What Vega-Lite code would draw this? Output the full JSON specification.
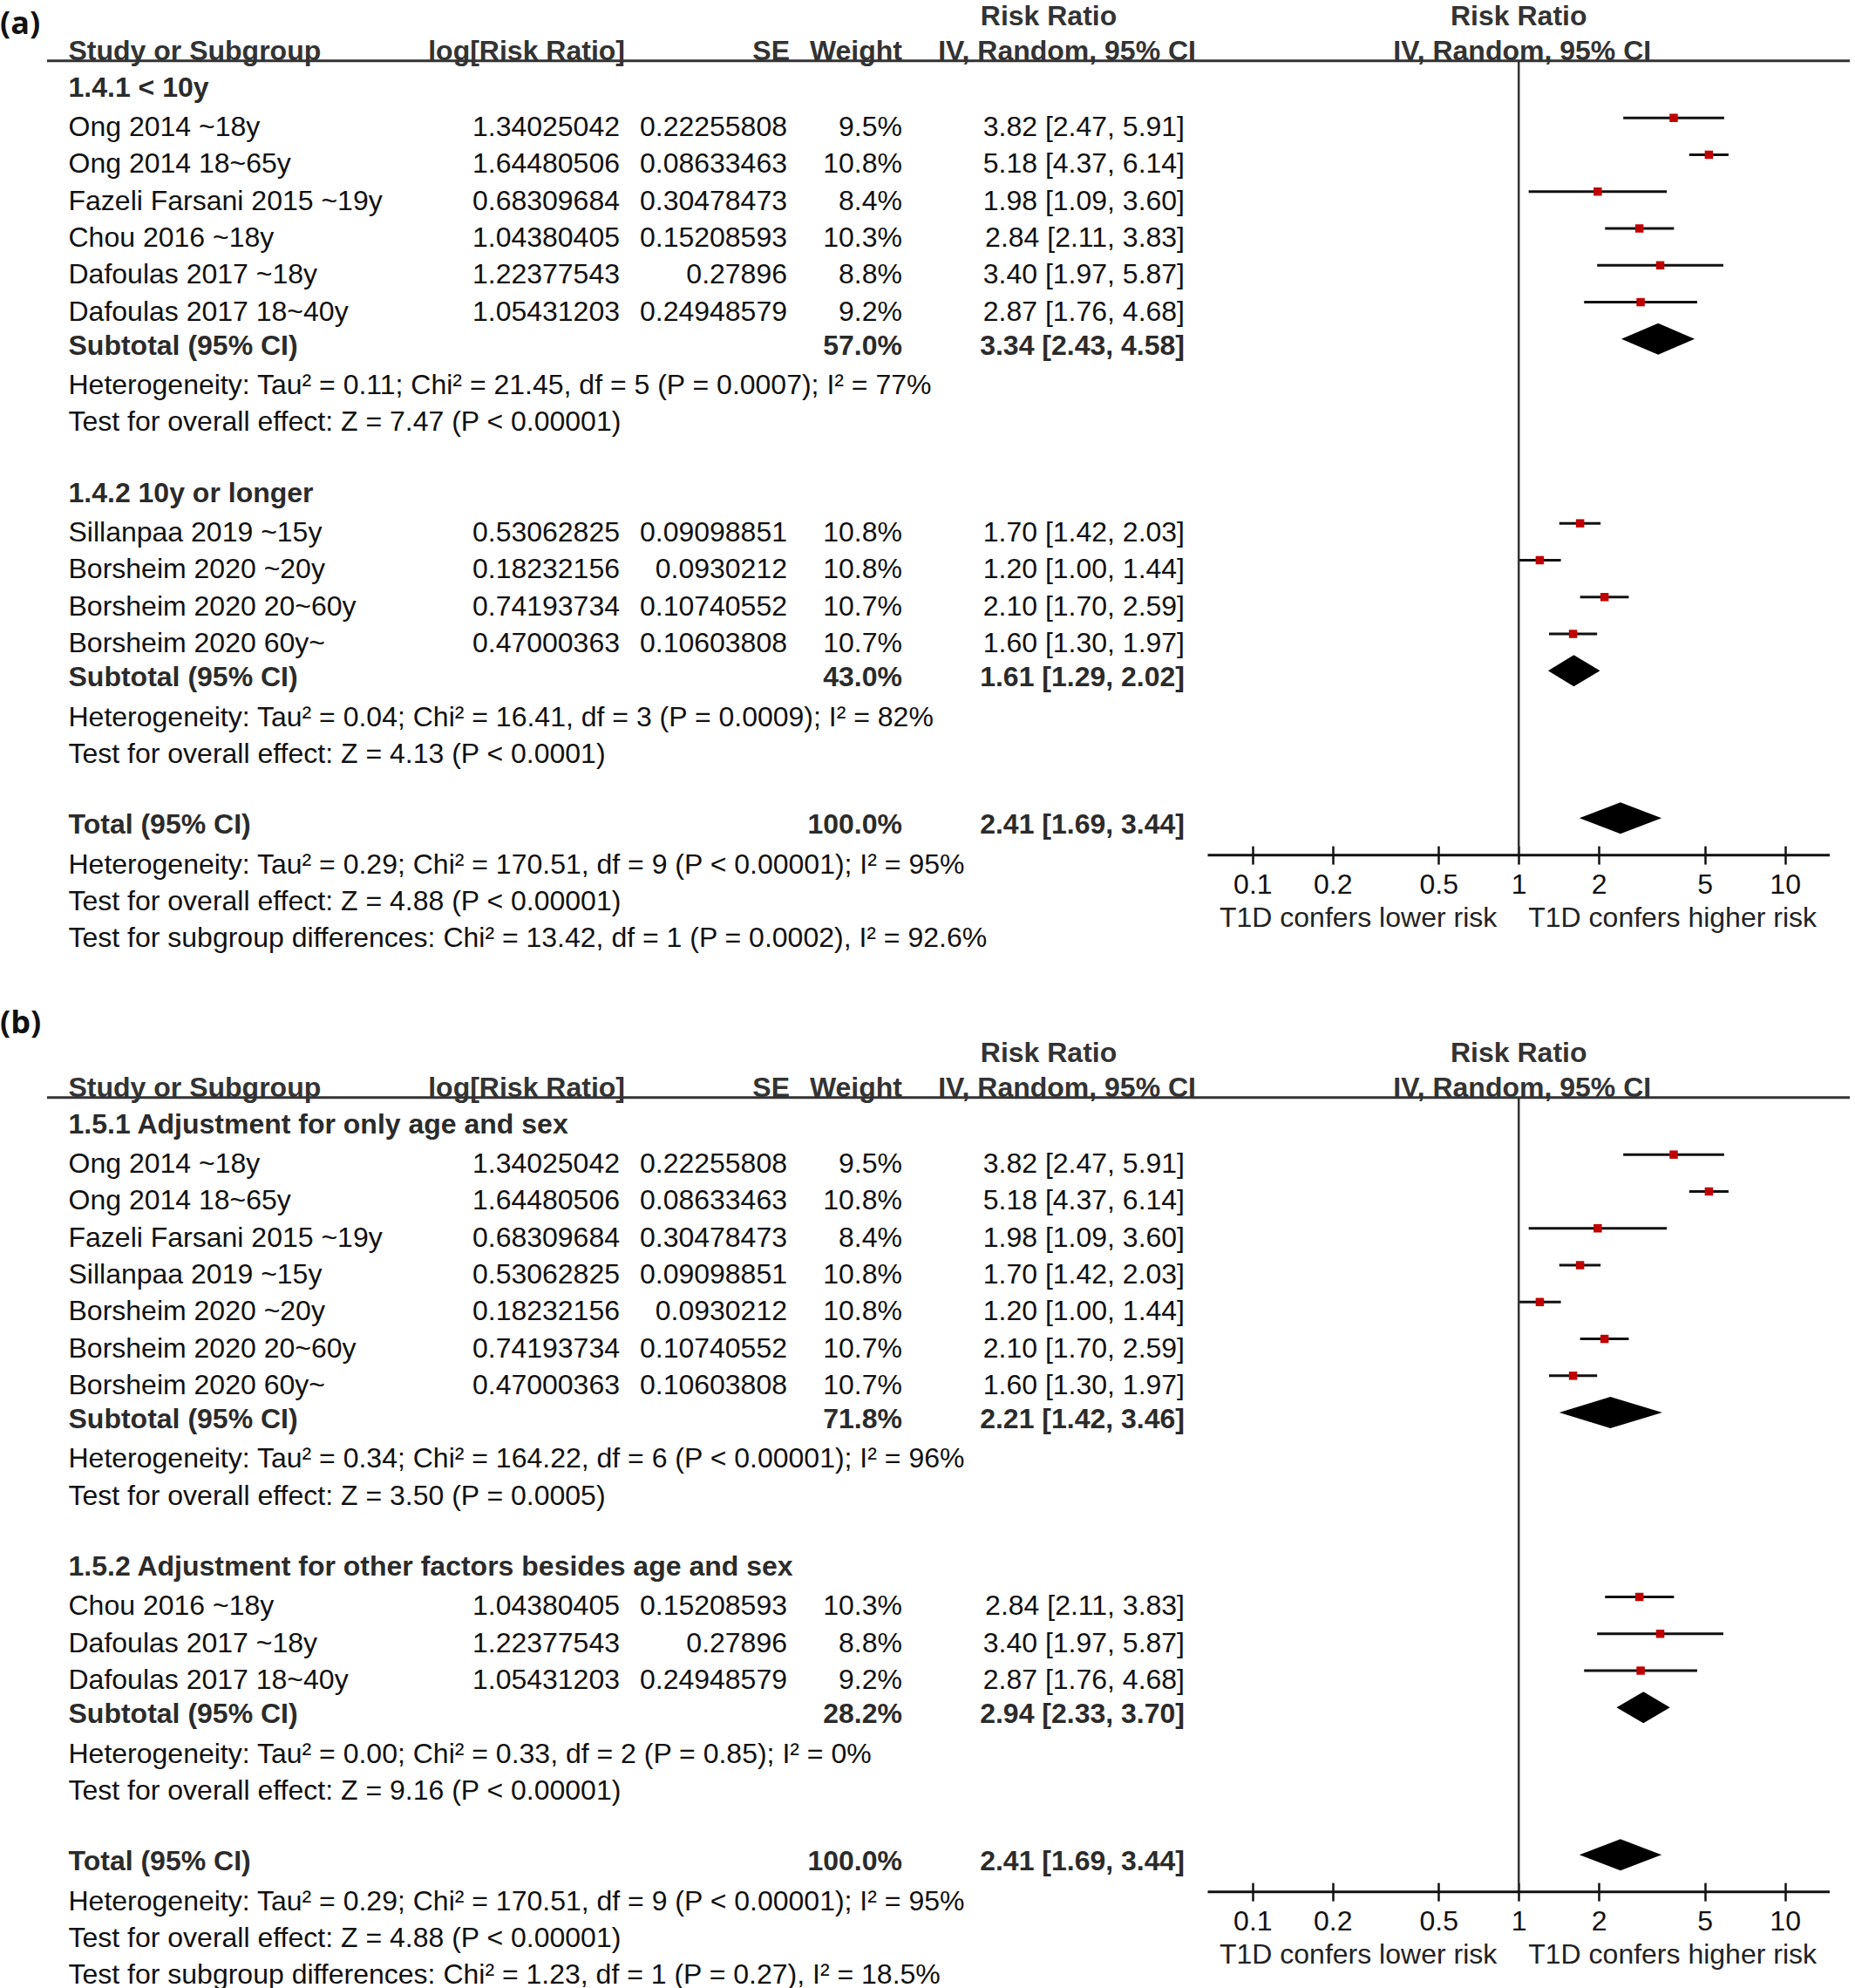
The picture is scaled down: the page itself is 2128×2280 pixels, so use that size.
{
"$schema": "https://vega.github.io/schema/vega-lite/v6.json",
"padding": 0,
"background": "white",
"spacing": 54,
"config": {"view": {"stroke": null}, "concat": {"spacing": 0}},
"datasets": {
"a": [
{"row":-2,"type":"head","ci":"Risk Ratio"},
{"row":-1,"type":"head","label":"Study or Subgroup","logrr":"log[Risk Ratio]","se":"SE","weight":"Weight","ci":"IV, Random, 95% CI"},
{"row":0,"type":"group","label":"1.4.1 < 10y"},
{"row":1,"type":"study","label":"Ong 2014 ~18y","logrr":"1.34025042","se":"0.22255808","weight":"9.5%","ci":"3.82 [2.47, 5.91]","rr":3.82,"lo":2.47,"hi":5.91},
{"row":2,"type":"study","label":"Ong 2014 18~65y","logrr":"1.64480506","se":"0.08633463","weight":"10.8%","ci":"5.18 [4.37, 6.14]","rr":5.18,"lo":4.37,"hi":6.14},
{"row":3,"type":"study","label":"Fazeli Farsani 2015 ~19y","logrr":"0.68309684","se":"0.30478473","weight":"8.4%","ci":"1.98 [1.09, 3.60]","rr":1.98,"lo":1.09,"hi":3.60},
{"row":4,"type":"study","label":"Chou 2016 ~18y","logrr":"1.04380405","se":"0.15208593","weight":"10.3%","ci":"2.84 [2.11, 3.83]","rr":2.84,"lo":2.11,"hi":3.83},
{"row":5,"type":"study","label":"Dafoulas 2017 ~18y","logrr":"1.22377543","se":"0.27896","weight":"8.8%","ci":"3.40 [1.97, 5.87]","rr":3.40,"lo":1.97,"hi":5.87},
{"row":6,"type":"study","label":"Dafoulas 2017 18~40y","logrr":"1.05431203","se":"0.24948579","weight":"9.2%","ci":"2.87 [1.76, 4.68]","rr":2.87,"lo":1.76,"hi":4.68},
{"row":7,"type":"subtotal","label":"Subtotal (95% CI)","weight":"57.0%","ci":"3.34 [2.43, 4.58]","rr":3.34,"lo":2.43,"hi":4.58},
{"row":8,"type":"stat","label":"Heterogeneity: Tau² = 0.11; Chi² = 21.45, df = 5 (P = 0.0007); I² = 77%"},
{"row":9,"type":"stat","label":"Test for overall effect: Z = 7.47 (P < 0.00001)"},
{"row":11,"type":"group","label":"1.4.2 10y or longer"},
{"row":12,"type":"study","label":"Sillanpaa 2019 ~15y","logrr":"0.53062825","se":"0.09098851","weight":"10.8%","ci":"1.70 [1.42, 2.03]","rr":1.70,"lo":1.42,"hi":2.03},
{"row":13,"type":"study","label":"Borsheim 2020 ~20y","logrr":"0.18232156","se":"0.0930212","weight":"10.8%","ci":"1.20 [1.00, 1.44]","rr":1.20,"lo":1.00,"hi":1.44},
{"row":14,"type":"study","label":"Borsheim 2020 20~60y","logrr":"0.74193734","se":"0.10740552","weight":"10.7%","ci":"2.10 [1.70, 2.59]","rr":2.10,"lo":1.70,"hi":2.59},
{"row":15,"type":"study","label":"Borsheim 2020 60y~","logrr":"0.47000363","se":"0.10603808","weight":"10.7%","ci":"1.60 [1.30, 1.97]","rr":1.60,"lo":1.30,"hi":1.97},
{"row":16,"type":"subtotal","label":"Subtotal (95% CI)","weight":"43.0%","ci":"1.61 [1.29, 2.02]","rr":1.61,"lo":1.29,"hi":2.02},
{"row":17,"type":"stat","label":"Heterogeneity: Tau² = 0.04; Chi² = 16.41, df = 3 (P = 0.0009); I² = 82%"},
{"row":18,"type":"stat","label":"Test for overall effect: Z = 4.13 (P < 0.0001)"},
{"row":20,"type":"total","label":"Total (95% CI)","weight":"100.0%","ci":"2.41 [1.69, 3.44]","rr":2.41,"lo":1.69,"hi":3.44},
{"row":21,"type":"stat","label":"Heterogeneity: Tau² = 0.29; Chi² = 170.51, df = 9 (P < 0.00001); I² = 95%"},
{"row":22,"type":"stat","label":"Test for overall effect: Z = 4.88 (P < 0.00001)"},
{"row":23,"type":"stat","label":"Test for subgroup differences: Chi² = 13.42, df = 1 (P = 0.0002), I² = 92.6%"}
],
"b": [
{"row":-2,"type":"head","ci":"Risk Ratio"},
{"row":-1,"type":"head","label":"Study or Subgroup","logrr":"log[Risk Ratio]","se":"SE","weight":"Weight","ci":"IV, Random, 95% CI"},
{"row":0,"type":"group","label":"1.5.1 Adjustment for only age and sex"},
{"row":1,"type":"study","label":"Ong 2014 ~18y","logrr":"1.34025042","se":"0.22255808","weight":"9.5%","ci":"3.82 [2.47, 5.91]","rr":3.82,"lo":2.47,"hi":5.91},
{"row":2,"type":"study","label":"Ong 2014 18~65y","logrr":"1.64480506","se":"0.08633463","weight":"10.8%","ci":"5.18 [4.37, 6.14]","rr":5.18,"lo":4.37,"hi":6.14},
{"row":3,"type":"study","label":"Fazeli Farsani 2015 ~19y","logrr":"0.68309684","se":"0.30478473","weight":"8.4%","ci":"1.98 [1.09, 3.60]","rr":1.98,"lo":1.09,"hi":3.60},
{"row":4,"type":"study","label":"Sillanpaa 2019 ~15y","logrr":"0.53062825","se":"0.09098851","weight":"10.8%","ci":"1.70 [1.42, 2.03]","rr":1.70,"lo":1.42,"hi":2.03},
{"row":5,"type":"study","label":"Borsheim 2020 ~20y","logrr":"0.18232156","se":"0.0930212","weight":"10.8%","ci":"1.20 [1.00, 1.44]","rr":1.20,"lo":1.00,"hi":1.44},
{"row":6,"type":"study","label":"Borsheim 2020 20~60y","logrr":"0.74193734","se":"0.10740552","weight":"10.7%","ci":"2.10 [1.70, 2.59]","rr":2.10,"lo":1.70,"hi":2.59},
{"row":7,"type":"study","label":"Borsheim 2020 60y~","logrr":"0.47000363","se":"0.10603808","weight":"10.7%","ci":"1.60 [1.30, 1.97]","rr":1.60,"lo":1.30,"hi":1.97},
{"row":8,"type":"subtotal","label":"Subtotal (95% CI)","weight":"71.8%","ci":"2.21 [1.42, 3.46]","rr":2.21,"lo":1.42,"hi":3.46},
{"row":9,"type":"stat","label":"Heterogeneity: Tau² = 0.34; Chi² = 164.22, df = 6 (P < 0.00001); I² = 96%"},
{"row":10,"type":"stat","label":"Test for overall effect: Z = 3.50 (P = 0.0005)"},
{"row":12,"type":"group","label":"1.5.2 Adjustment for other factors besides age and sex"},
{"row":13,"type":"study","label":"Chou 2016 ~18y","logrr":"1.04380405","se":"0.15208593","weight":"10.3%","ci":"2.84 [2.11, 3.83]","rr":2.84,"lo":2.11,"hi":3.83},
{"row":14,"type":"study","label":"Dafoulas 2017 ~18y","logrr":"1.22377543","se":"0.27896","weight":"8.8%","ci":"3.40 [1.97, 5.87]","rr":3.40,"lo":1.97,"hi":5.87},
{"row":15,"type":"study","label":"Dafoulas 2017 18~40y","logrr":"1.05431203","se":"0.24948579","weight":"9.2%","ci":"2.87 [1.76, 4.68]","rr":2.87,"lo":1.76,"hi":4.68},
{"row":16,"type":"subtotal","label":"Subtotal (95% CI)","weight":"28.2%","ci":"2.94 [2.33, 3.70]","rr":2.94,"lo":2.33,"hi":3.70},
{"row":17,"type":"stat","label":"Heterogeneity: Tau² = 0.00; Chi² = 0.33, df = 2 (P = 0.85); I² = 0%"},
{"row":18,"type":"stat","label":"Test for overall effect: Z = 9.16 (P < 0.00001)"},
{"row":20,"type":"total","label":"Total (95% CI)","weight":"100.0%","ci":"2.41 [1.69, 3.44]","rr":2.41,"lo":1.69,"hi":3.44},
{"row":21,"type":"stat","label":"Heterogeneity: Tau² = 0.29; Chi² = 170.51, df = 9 (P < 0.00001); I² = 95%"},
{"row":22,"type":"stat","label":"Test for overall effect: Z = 4.88 (P < 0.00001)"},
{"row":23,"type":"stat","label":"Test for subgroup differences: Chi² = 1.23, df = 1 (P = 0.27), I² = 18.5%"}
]
},
"vconcat": [
{
"data": {"name": "a"},
"bounds": "flush",
"spacing": 0,
"hconcat": [
{"width": 54, "height": 1095, "data": {"values": [{}]},
 "mark": {"type": "text", "text": "(a)", "font": "Open Sans", "fontWeight": "bold", "fontSize": 36, "align": "left", "baseline": "middle", "color": "#111"},
 "encoding": {"x": {"value": 0}, "y": {"datum": -1.542, "type": "quantitative", "scale": {"domain": [-2.198, 23.705], "reverse": true, "nice": false, "zero": false}, "axis": null}}},
{"width": 657, "height": 1095, "layer": [
 {"data": {"values": [{}]}, "mark": {"type": "rule", "color": "#333", "strokeWidth": 3}, "encoding": {"y": {"datum": -0.546, "type": "quantitative", "scale": {"domain": [-2.198, 23.705], "reverse": true, "nice": false, "zero": false}, "axis": null}}},
 {"transform": [{"filter": "datum.type == 'head' && isValid(datum.label)"}], "mark": {"type": "text", "font": "Liberation Sans", "fontSize": 32, "fontWeight": "bold", "baseline": "middle", "dy": 8, "align": "left", "dx": 24.5, "color": "#333"}, "encoding": {"x": {"value": 0}, "y": {"field": "row", "type": "quantitative", "scale": {"domain": [-2.198, 23.705], "reverse": true, "nice": false, "zero": false}, "axis": null}, "text": {"field": "label"}}},
 {"transform": [{"filter": "datum.type == 'group' || datum.type == 'subtotal' || datum.type == 'total'"}], "mark": {"type": "text", "font": "Liberation Sans", "fontSize": 32, "fontWeight": "bold", "baseline": "middle", "dy": 8, "align": "left", "dx": 24.5, "color": "#2b2b2b"}, "encoding": {"x": {"value": 0}, "y": {"field": "row", "type": "quantitative", "scale": {"domain": [-2.198, 23.705], "reverse": true, "nice": false, "zero": false}, "axis": null}, "text": {"field": "label"}}},
 {"transform": [{"filter": "datum.type == 'study' || datum.type == 'stat'"}], "mark": {"type": "text", "font": "Liberation Sans", "fontSize": 32, "baseline": "middle", "dy": 11, "align": "left", "dx": 24.5, "color": "#111"}, "encoding": {"x": {"value": 0}, "y": {"field": "row", "type": "quantitative", "scale": {"domain": [-2.198, 23.705], "reverse": true, "nice": false, "zero": false}, "axis": null}, "text": {"field": "label"}}},
 {"transform": [{"filter": "datum.type == 'study'"}], "mark": {"type": "text", "font": "Liberation Sans", "fontSize": 32, "baseline": "middle", "dy": 11, "align": "right", "color": "#111"}, "encoding": {"x": {"value": "width"}, "y": {"field": "row", "type": "quantitative", "scale": {"domain": [-2.198, 23.705], "reverse": true, "nice": false, "zero": false}, "axis": null}, "text": {"field": "logrr"}}},
 {"transform": [{"filter": "datum.type == 'head' && isValid(datum.logrr)"}], "mark": {"type": "text", "font": "Liberation Sans", "fontSize": 32, "fontWeight": "bold", "baseline": "middle", "dy": 8, "align": "right", "dx": 6, "color": "#333"}, "encoding": {"x": {"value": "width"}, "y": {"field": "row", "type": "quantitative", "scale": {"domain": [-2.198, 23.705], "reverse": true, "nice": false, "zero": false}, "axis": null}, "text": {"field": "logrr"}}}
]},
{"width": 192, "height": 1095, "layer": [
 {"data": {"values": [{}]}, "mark": {"type": "rule", "color": "#333", "strokeWidth": 3}, "encoding": {"y": {"datum": -0.546, "type": "quantitative", "scale": {"domain": [-2.198, 23.705], "reverse": true, "nice": false, "zero": false}, "axis": null}}},
 {"transform": [{"filter": "datum.type == 'study'"}], "mark": {"type": "text", "font": "Liberation Sans", "fontSize": 32, "baseline": "middle", "dy": 11, "align": "right", "color": "#111"}, "encoding": {"x": {"value": "width"}, "y": {"field": "row", "type": "quantitative", "scale": {"domain": [-2.198, 23.705], "reverse": true, "nice": false, "zero": false}, "axis": null}, "text": {"field": "se"}}},
 {"transform": [{"filter": "datum.type == 'head' && isValid(datum.se)"}], "mark": {"type": "text", "font": "Liberation Sans", "fontSize": 32, "fontWeight": "bold", "baseline": "middle", "dy": 8, "align": "right", "dx": 3, "color": "#333"}, "encoding": {"x": {"value": "width"}, "y": {"field": "row", "type": "quantitative", "scale": {"domain": [-2.198, 23.705], "reverse": true, "nice": false, "zero": false}, "axis": null}, "text": {"field": "se"}}}
]},
{"width": 132, "height": 1095, "layer": [
 {"data": {"values": [{}]}, "mark": {"type": "rule", "color": "#333", "strokeWidth": 3}, "encoding": {"y": {"datum": -0.546, "type": "quantitative", "scale": {"domain": [-2.198, 23.705], "reverse": true, "nice": false, "zero": false}, "axis": null}}},
 {"transform": [{"filter": "datum.type == 'study'"}], "mark": {"type": "text", "font": "Liberation Sans", "fontSize": 32, "baseline": "middle", "dy": 11, "align": "right", "color": "#111"}, "encoding": {"x": {"value": "width"}, "y": {"field": "row", "type": "quantitative", "scale": {"domain": [-2.198, 23.705], "reverse": true, "nice": false, "zero": false}, "axis": null}, "text": {"field": "weight"}}},
 {"transform": [{"filter": "datum.type == 'subtotal' || datum.type == 'total'"}], "mark": {"type": "text", "font": "Liberation Sans", "fontSize": 32, "fontWeight": "bold", "baseline": "middle", "dy": 8, "align": "right", "color": "#2b2b2b"}, "encoding": {"x": {"value": "width"}, "y": {"field": "row", "type": "quantitative", "scale": {"domain": [-2.198, 23.705], "reverse": true, "nice": false, "zero": false}, "axis": null}, "text": {"field": "weight"}}},
 {"transform": [{"filter": "datum.type == 'head' && isValid(datum.weight)"}], "mark": {"type": "text", "font": "Liberation Sans", "fontSize": 32, "fontWeight": "bold", "baseline": "middle", "dy": 8, "align": "right", "color": "#333"}, "encoding": {"x": {"value": "width"}, "y": {"field": "row", "type": "quantitative", "scale": {"domain": [-2.198, 23.705], "reverse": true, "nice": false, "zero": false}, "axis": null}, "text": {"field": "weight"}}}
]},
{"width": 324, "height": 1095, "layer": [
 {"data": {"values": [{}]}, "mark": {"type": "rule", "color": "#333", "strokeWidth": 3}, "encoding": {"y": {"datum": -0.546, "type": "quantitative", "scale": {"domain": [-2.198, 23.705], "reverse": true, "nice": false, "zero": false}, "axis": null}}},
 {"transform": [{"filter": "datum.type == 'study'"}], "mark": {"type": "text", "font": "Liberation Sans", "fontSize": 32, "baseline": "middle", "dy": 11, "align": "right", "color": "#111"}, "encoding": {"x": {"value": "width"}, "y": {"field": "row", "type": "quantitative", "scale": {"domain": [-2.198, 23.705], "reverse": true, "nice": false, "zero": false}, "axis": null}, "text": {"field": "ci"}}},
 {"transform": [{"filter": "datum.type == 'subtotal' || datum.type == 'total'"}], "mark": {"type": "text", "font": "Liberation Sans", "fontSize": 32, "fontWeight": "bold", "baseline": "middle", "dy": 8, "align": "right", "color": "#2b2b2b"}, "encoding": {"x": {"value": "width"}, "y": {"field": "row", "type": "quantitative", "scale": {"domain": [-2.198, 23.705], "reverse": true, "nice": false, "zero": false}, "axis": null}, "text": {"field": "ci"}}},
 {"transform": [{"filter": "datum.type == 'head' && datum.row == -1"}], "mark": {"type": "text", "font": "Liberation Sans", "fontSize": 32, "fontWeight": "bold", "baseline": "middle", "dy": 8, "align": "right", "dx": 13, "color": "#333"}, "encoding": {"x": {"value": "width"}, "y": {"field": "row", "type": "quantitative", "scale": {"domain": [-2.198, 23.705], "reverse": true, "nice": false, "zero": false}, "axis": null}, "text": {"field": "ci"}}},
 {"transform": [{"filter": "datum.type == 'head' && datum.row == -2"}], "mark": {"type": "text", "font": "Liberation Sans", "fontSize": 32, "fontWeight": "bold", "baseline": "middle", "dy": 11, "align": "center", "dx": -156, "color": "#333"}, "encoding": {"x": {"value": "width"}, "y": {"field": "row", "type": "quantitative", "scale": {"domain": [-2.198, 23.705], "reverse": true, "nice": false, "zero": false}, "axis": null}, "text": {"field": "ci"}}}
]},
{"width": 763, "height": 1095, "resolve": {"scale": {"y": "independent"}}, "layer": [
 {"data": {"values": [{}]}, "mark": {"type": "rule", "color": "#333", "strokeWidth": 3}, "encoding": {"y": {"datum": -0.546, "type": "quantitative", "scale": {"domain": [-2.198, 23.705], "reverse": true, "nice": false, "zero": false}, "axis": null}}},
 {"transform": [{"filter": "datum.type == 'study'"}], "mark": {"type": "rule", "color": "#111", "strokeWidth": 3}, "encoding": {"x": {"field": "lo", "type": "quantitative", "scale": {"type": "log", "domain": [0.0679, 14.73], "range": [26.5, 740], "nice": false}, "axis": {"values": [0.1, 0.2, 0.5, 1, 2, 5, 10], "format": "~g", "domain": false, "grid": false, "ticks": true, "tickSize": 21, "tickWidth": 2.5, "tickColor": "#111", "labelFont": "Liberation Sans", "labelFontSize": 32, "labelColor": "#111", "labelPadding": 8, "labelFlush": false, "labelOverlap": false, "labelBound": false, "offset": -124.9, "title": null}}, "x2": {"field": "hi"}, "y": {"field": "row", "type": "quantitative", "scale": {"domain": [-2.198, 23.705], "reverse": true, "nice": false, "zero": false}, "axis": null}}},
 {"data": {"values": [{}]}, "mark": {"type": "rule", "color": "#333", "strokeWidth": 2.5}, "encoding": {"x": {"datum": 1, "type": "quantitative"}, "y": {"datum": -0.546, "type": "quantitative", "scale": {"domain": [-2.198, 23.705], "reverse": true, "nice": false, "zero": false}, "axis": null}, "y2": {"datum": 21}}},
 {"data": {"values": [{}]}, "mark": {"type": "rule", "color": "#111", "strokeWidth": 3}, "encoding": {"x": {"datum": 0.0679, "type": "quantitative"}, "x2": {"datum": 14.73}, "y": {"datum": 21, "type": "quantitative", "scale": {"domain": [-2.198, 23.705], "reverse": true, "nice": false, "zero": false}, "axis": null}}},
 {"transform": [{"filter": "datum.type == 'study'"}], "mark": {"type": "point", "shape": "square", "filled": true, "color": "#c00000", "size": 90, "opacity": 1}, "encoding": {"x": {"field": "rr", "type": "quantitative"}, "y": {"field": "row", "type": "quantitative", "scale": {"domain": [-2.198, 23.705], "reverse": true, "nice": false, "zero": false}, "axis": null}}},
 {"transform": [{"filter": "datum.type == 'subtotal' || datum.type == 'total'"}, {"fold": ["lo", "rr", "hi", "rr"], "as": ["pt", "v"]}, {"window": [{"op": "row_number", "as": "k"}], "groupby": ["row"]}], "mark": {"type": "line", "filled": true, "color": "#000", "interpolate": "linear"}, "encoding": {"x": {"field": "v", "type": "quantitative"}, "y": {"field": "row", "type": "ordinal", "scale": {"type": "point", "domain": [-2,-1,0,1,2,3,4,5,6,7,8,9,10,11,12,13,14,15,16,17,18,19,20,21,22,23], "range": [8.37, 1065.12], "padding": 0}, "axis": null}, "yOffset": {"field": "k", "type": "quantitative", "scale": {"domain": [1, 2, 3, 4], "range": [0, -18, 0, 18], "zero": false, "nice": false}}, "order": {"field": "k", "type": "quantitative"}, "detail": {"field": "row", "type": "nominal"}}},
 {"transform": [{"filter": "datum.type == 'head' && datum.row == -1"}], "mark": {"type": "text", "font": "Liberation Sans", "fontSize": 32, "fontWeight": "bold", "baseline": "middle", "dy": 8, "dx": 4, "align": "center", "color": "#333"}, "encoding": {"x": {"datum": 1, "type": "quantitative"}, "y": {"field": "row", "type": "quantitative", "scale": {"domain": [-2.198, 23.705], "reverse": true, "nice": false, "zero": false}, "axis": null}, "text": {"field": "ci"}}},
 {"transform": [{"filter": "datum.type == 'head' && datum.row == -2"}], "mark": {"type": "text", "font": "Liberation Sans", "fontSize": 32, "fontWeight": "bold", "baseline": "middle", "dy": 11, "align": "center", "color": "#333"}, "encoding": {"x": {"datum": 1, "type": "quantitative"}, "y": {"field": "row", "type": "quantitative", "scale": {"domain": [-2.198, 23.705], "reverse": true, "nice": false, "zero": false}, "axis": null}, "text": {"field": "ci"}}},
 {"data": {"values": [{"t": "T1D confers lower risk"}]}, "mark": {"type": "text", "font": "Liberation Sans", "fontSize": 32, "baseline": "middle", "dy": 8, "align": "right", "dx": -25, "color": "#222"}, "encoding": {"x": {"datum": 1, "type": "quantitative"}, "y": {"datum": 22.52, "type": "quantitative", "scale": {"domain": [-2.198, 23.705], "reverse": true, "nice": false, "zero": false}, "axis": null}, "text": {"field": "t"}}},
 {"data": {"values": [{"t": "T1D confers higher risk"}]}, "mark": {"type": "text", "font": "Liberation Sans", "fontSize": 32, "baseline": "middle", "dy": 8, "align": "left", "dx": 11, "color": "#222"}, "encoding": {"x": {"datum": 1, "type": "quantitative"}, "y": {"datum": 22.52, "type": "quantitative", "scale": {"domain": [-2.198, 23.705], "reverse": true, "nice": false, "zero": false}, "axis": null}, "text": {"field": "t"}}}
]}
]
},
{
"data": {"name": "b"},
"bounds": "flush",
"spacing": 0,
"hconcat": [
{"width": 54, "height": 1131, "data": {"values": [{}]},
 "mark": {"type": "text", "text": "(b)", "font": "Open Sans", "fontWeight": "bold", "fontSize": 36, "align": "left", "baseline": "middle", "color": "#111"},
 "encoding": {"x": {"value": 0}, "y": {"datum": -2.558, "type": "quantitative", "scale": {"domain": [-3.1443, 23.61], "reverse": true, "nice": false, "zero": false}, "axis": null}}},
{"width": 657, "height": 1131, "layer": [
 {"data": {"values": [{}]}, "mark": {"type": "rule", "color": "#333", "strokeWidth": 3}, "encoding": {"y": {"datum": -0.546, "type": "quantitative", "scale": {"domain": [-3.1443, 23.61], "reverse": true, "nice": false, "zero": false}, "axis": null}}},
 {"transform": [{"filter": "datum.type == 'head' && isValid(datum.label)"}], "mark": {"type": "text", "font": "Liberation Sans", "fontSize": 32, "fontWeight": "bold", "baseline": "middle", "dy": 8, "align": "left", "dx": 24.5, "color": "#333"}, "encoding": {"x": {"value": 0}, "y": {"field": "row", "type": "quantitative", "scale": {"domain": [-3.1443, 23.61], "reverse": true, "nice": false, "zero": false}, "axis": null}, "text": {"field": "label"}}},
 {"transform": [{"filter": "datum.type == 'group' || datum.type == 'subtotal' || datum.type == 'total'"}], "mark": {"type": "text", "font": "Liberation Sans", "fontSize": 32, "fontWeight": "bold", "baseline": "middle", "dy": 8, "align": "left", "dx": 24.5, "color": "#2b2b2b"}, "encoding": {"x": {"value": 0}, "y": {"field": "row", "type": "quantitative", "scale": {"domain": [-3.1443, 23.61], "reverse": true, "nice": false, "zero": false}, "axis": null}, "text": {"field": "label"}}},
 {"transform": [{"filter": "datum.type == 'study' || datum.type == 'stat'"}], "mark": {"type": "text", "font": "Liberation Sans", "fontSize": 32, "baseline": "middle", "dy": 11, "align": "left", "dx": 24.5, "color": "#111"}, "encoding": {"x": {"value": 0}, "y": {"field": "row", "type": "quantitative", "scale": {"domain": [-3.1443, 23.61], "reverse": true, "nice": false, "zero": false}, "axis": null}, "text": {"field": "label"}}},
 {"transform": [{"filter": "datum.type == 'study'"}], "mark": {"type": "text", "font": "Liberation Sans", "fontSize": 32, "baseline": "middle", "dy": 11, "align": "right", "color": "#111"}, "encoding": {"x": {"value": "width"}, "y": {"field": "row", "type": "quantitative", "scale": {"domain": [-3.1443, 23.61], "reverse": true, "nice": false, "zero": false}, "axis": null}, "text": {"field": "logrr"}}},
 {"transform": [{"filter": "datum.type == 'head' && isValid(datum.logrr)"}], "mark": {"type": "text", "font": "Liberation Sans", "fontSize": 32, "fontWeight": "bold", "baseline": "middle", "dy": 8, "align": "right", "dx": 6, "color": "#333"}, "encoding": {"x": {"value": "width"}, "y": {"field": "row", "type": "quantitative", "scale": {"domain": [-3.1443, 23.61], "reverse": true, "nice": false, "zero": false}, "axis": null}, "text": {"field": "logrr"}}}
]},
{"width": 192, "height": 1131, "layer": [
 {"data": {"values": [{}]}, "mark": {"type": "rule", "color": "#333", "strokeWidth": 3}, "encoding": {"y": {"datum": -0.546, "type": "quantitative", "scale": {"domain": [-3.1443, 23.61], "reverse": true, "nice": false, "zero": false}, "axis": null}}},
 {"transform": [{"filter": "datum.type == 'study'"}], "mark": {"type": "text", "font": "Liberation Sans", "fontSize": 32, "baseline": "middle", "dy": 11, "align": "right", "color": "#111"}, "encoding": {"x": {"value": "width"}, "y": {"field": "row", "type": "quantitative", "scale": {"domain": [-3.1443, 23.61], "reverse": true, "nice": false, "zero": false}, "axis": null}, "text": {"field": "se"}}},
 {"transform": [{"filter": "datum.type == 'head' && isValid(datum.se)"}], "mark": {"type": "text", "font": "Liberation Sans", "fontSize": 32, "fontWeight": "bold", "baseline": "middle", "dy": 8, "align": "right", "dx": 3, "color": "#333"}, "encoding": {"x": {"value": "width"}, "y": {"field": "row", "type": "quantitative", "scale": {"domain": [-3.1443, 23.61], "reverse": true, "nice": false, "zero": false}, "axis": null}, "text": {"field": "se"}}}
]},
{"width": 132, "height": 1131, "layer": [
 {"data": {"values": [{}]}, "mark": {"type": "rule", "color": "#333", "strokeWidth": 3}, "encoding": {"y": {"datum": -0.546, "type": "quantitative", "scale": {"domain": [-3.1443, 23.61], "reverse": true, "nice": false, "zero": false}, "axis": null}}},
 {"transform": [{"filter": "datum.type == 'study'"}], "mark": {"type": "text", "font": "Liberation Sans", "fontSize": 32, "baseline": "middle", "dy": 11, "align": "right", "color": "#111"}, "encoding": {"x": {"value": "width"}, "y": {"field": "row", "type": "quantitative", "scale": {"domain": [-3.1443, 23.61], "reverse": true, "nice": false, "zero": false}, "axis": null}, "text": {"field": "weight"}}},
 {"transform": [{"filter": "datum.type == 'subtotal' || datum.type == 'total'"}], "mark": {"type": "text", "font": "Liberation Sans", "fontSize": 32, "fontWeight": "bold", "baseline": "middle", "dy": 8, "align": "right", "color": "#2b2b2b"}, "encoding": {"x": {"value": "width"}, "y": {"field": "row", "type": "quantitative", "scale": {"domain": [-3.1443, 23.61], "reverse": true, "nice": false, "zero": false}, "axis": null}, "text": {"field": "weight"}}},
 {"transform": [{"filter": "datum.type == 'head' && isValid(datum.weight)"}], "mark": {"type": "text", "font": "Liberation Sans", "fontSize": 32, "fontWeight": "bold", "baseline": "middle", "dy": 8, "align": "right", "color": "#333"}, "encoding": {"x": {"value": "width"}, "y": {"field": "row", "type": "quantitative", "scale": {"domain": [-3.1443, 23.61], "reverse": true, "nice": false, "zero": false}, "axis": null}, "text": {"field": "weight"}}}
]},
{"width": 324, "height": 1131, "layer": [
 {"data": {"values": [{}]}, "mark": {"type": "rule", "color": "#333", "strokeWidth": 3}, "encoding": {"y": {"datum": -0.546, "type": "quantitative", "scale": {"domain": [-3.1443, 23.61], "reverse": true, "nice": false, "zero": false}, "axis": null}}},
 {"transform": [{"filter": "datum.type == 'study'"}], "mark": {"type": "text", "font": "Liberation Sans", "fontSize": 32, "baseline": "middle", "dy": 11, "align": "right", "color": "#111"}, "encoding": {"x": {"value": "width"}, "y": {"field": "row", "type": "quantitative", "scale": {"domain": [-3.1443, 23.61], "reverse": true, "nice": false, "zero": false}, "axis": null}, "text": {"field": "ci"}}},
 {"transform": [{"filter": "datum.type == 'subtotal' || datum.type == 'total'"}], "mark": {"type": "text", "font": "Liberation Sans", "fontSize": 32, "fontWeight": "bold", "baseline": "middle", "dy": 8, "align": "right", "color": "#2b2b2b"}, "encoding": {"x": {"value": "width"}, "y": {"field": "row", "type": "quantitative", "scale": {"domain": [-3.1443, 23.61], "reverse": true, "nice": false, "zero": false}, "axis": null}, "text": {"field": "ci"}}},
 {"transform": [{"filter": "datum.type == 'head' && datum.row == -1"}], "mark": {"type": "text", "font": "Liberation Sans", "fontSize": 32, "fontWeight": "bold", "baseline": "middle", "dy": 8, "align": "right", "dx": 13, "color": "#333"}, "encoding": {"x": {"value": "width"}, "y": {"field": "row", "type": "quantitative", "scale": {"domain": [-3.1443, 23.61], "reverse": true, "nice": false, "zero": false}, "axis": null}, "text": {"field": "ci"}}},
 {"transform": [{"filter": "datum.type == 'head' && datum.row == -2"}], "mark": {"type": "text", "font": "Liberation Sans", "fontSize": 32, "fontWeight": "bold", "baseline": "middle", "dy": 11, "align": "center", "dx": -156, "color": "#333"}, "encoding": {"x": {"value": "width"}, "y": {"field": "row", "type": "quantitative", "scale": {"domain": [-3.1443, 23.61], "reverse": true, "nice": false, "zero": false}, "axis": null}, "text": {"field": "ci"}}}
]},
{"width": 763, "height": 1131, "resolve": {"scale": {"y": "independent"}}, "layer": [
 {"data": {"values": [{}]}, "mark": {"type": "rule", "color": "#333", "strokeWidth": 3}, "encoding": {"y": {"datum": -0.546, "type": "quantitative", "scale": {"domain": [-3.1443, 23.61], "reverse": true, "nice": false, "zero": false}, "axis": null}}},
 {"transform": [{"filter": "datum.type == 'study'"}], "mark": {"type": "rule", "color": "#111", "strokeWidth": 3}, "encoding": {"x": {"field": "lo", "type": "quantitative", "scale": {"type": "log", "domain": [0.0679, 14.73], "range": [26.5, 740], "nice": false}, "axis": {"values": [0.1, 0.2, 0.5, 1, 2, 5, 10], "format": "~g", "domain": false, "grid": false, "ticks": true, "tickSize": 21, "tickWidth": 2.5, "tickColor": "#111", "labelFont": "Liberation Sans", "labelFontSize": 32, "labelColor": "#111", "labelPadding": 8, "labelFlush": false, "labelOverlap": false, "labelBound": false, "offset": -120.9, "title": null}}, "x2": {"field": "hi"}, "y": {"field": "row", "type": "quantitative", "scale": {"domain": [-3.1443, 23.61], "reverse": true, "nice": false, "zero": false}, "axis": null}}},
 {"data": {"values": [{}]}, "mark": {"type": "rule", "color": "#333", "strokeWidth": 2.5}, "encoding": {"x": {"datum": 1, "type": "quantitative"}, "y": {"datum": -0.546, "type": "quantitative", "scale": {"domain": [-3.1443, 23.61], "reverse": true, "nice": false, "zero": false}, "axis": null}, "y2": {"datum": 21}}},
 {"data": {"values": [{}]}, "mark": {"type": "rule", "color": "#111", "strokeWidth": 3}, "encoding": {"x": {"datum": 0.0679, "type": "quantitative"}, "x2": {"datum": 14.73}, "y": {"datum": 21, "type": "quantitative", "scale": {"domain": [-3.1443, 23.61], "reverse": true, "nice": false, "zero": false}, "axis": null}}},
 {"transform": [{"filter": "datum.type == 'study'"}], "mark": {"type": "point", "shape": "square", "filled": true, "color": "#c00000", "size": 90, "opacity": 1}, "encoding": {"x": {"field": "rr", "type": "quantitative"}, "y": {"field": "row", "type": "quantitative", "scale": {"domain": [-3.1443, 23.61], "reverse": true, "nice": false, "zero": false}, "axis": null}}},
 {"transform": [{"filter": "datum.type == 'subtotal' || datum.type == 'total'"}, {"fold": ["lo", "rr", "hi", "rr"], "as": ["pt", "v"]}, {"window": [{"op": "row_number", "as": "k"}], "groupby": ["row"]}], "mark": {"type": "line", "filled": true, "color": "#000", "interpolate": "linear"}, "encoding": {"x": {"field": "v", "type": "quantitative"}, "y": {"field": "row", "type": "ordinal", "scale": {"type": "point", "domain": [-2,-1,0,1,2,3,4,5,6,7,8,9,10,11,12,13,14,15,16,17,18,19,20,21,22,23], "range": [48.37, 1105.12], "padding": 0}, "axis": null}, "yOffset": {"field": "k", "type": "quantitative", "scale": {"domain": [1, 2, 3, 4], "range": [0, -18, 0, 18], "zero": false, "nice": false}}, "order": {"field": "k", "type": "quantitative"}, "detail": {"field": "row", "type": "nominal"}}},
 {"transform": [{"filter": "datum.type == 'head' && datum.row == -1"}], "mark": {"type": "text", "font": "Liberation Sans", "fontSize": 32, "fontWeight": "bold", "baseline": "middle", "dy": 8, "dx": 4, "align": "center", "color": "#333"}, "encoding": {"x": {"datum": 1, "type": "quantitative"}, "y": {"field": "row", "type": "quantitative", "scale": {"domain": [-3.1443, 23.61], "reverse": true, "nice": false, "zero": false}, "axis": null}, "text": {"field": "ci"}}},
 {"transform": [{"filter": "datum.type == 'head' && datum.row == -2"}], "mark": {"type": "text", "font": "Liberation Sans", "fontSize": 32, "fontWeight": "bold", "baseline": "middle", "dy": 11, "align": "center", "color": "#333"}, "encoding": {"x": {"datum": 1, "type": "quantitative"}, "y": {"field": "row", "type": "quantitative", "scale": {"domain": [-3.1443, 23.61], "reverse": true, "nice": false, "zero": false}, "axis": null}, "text": {"field": "ci"}}},
 {"data": {"values": [{"t": "T1D confers lower risk"}]}, "mark": {"type": "text", "font": "Liberation Sans", "fontSize": 32, "baseline": "middle", "dy": 8, "align": "right", "dx": -25, "color": "#222"}, "encoding": {"x": {"datum": 1, "type": "quantitative"}, "y": {"datum": 22.52, "type": "quantitative", "scale": {"domain": [-3.1443, 23.61], "reverse": true, "nice": false, "zero": false}, "axis": null}, "text": {"field": "t"}}},
 {"data": {"values": [{"t": "T1D confers higher risk"}]}, "mark": {"type": "text", "font": "Liberation Sans", "fontSize": 32, "baseline": "middle", "dy": 8, "align": "left", "dx": 11, "color": "#222"}, "encoding": {"x": {"datum": 1, "type": "quantitative"}, "y": {"datum": 22.52, "type": "quantitative", "scale": {"domain": [-3.1443, 23.61], "reverse": true, "nice": false, "zero": false}, "axis": null}, "text": {"field": "t"}}}
]}
]
}
]
}
